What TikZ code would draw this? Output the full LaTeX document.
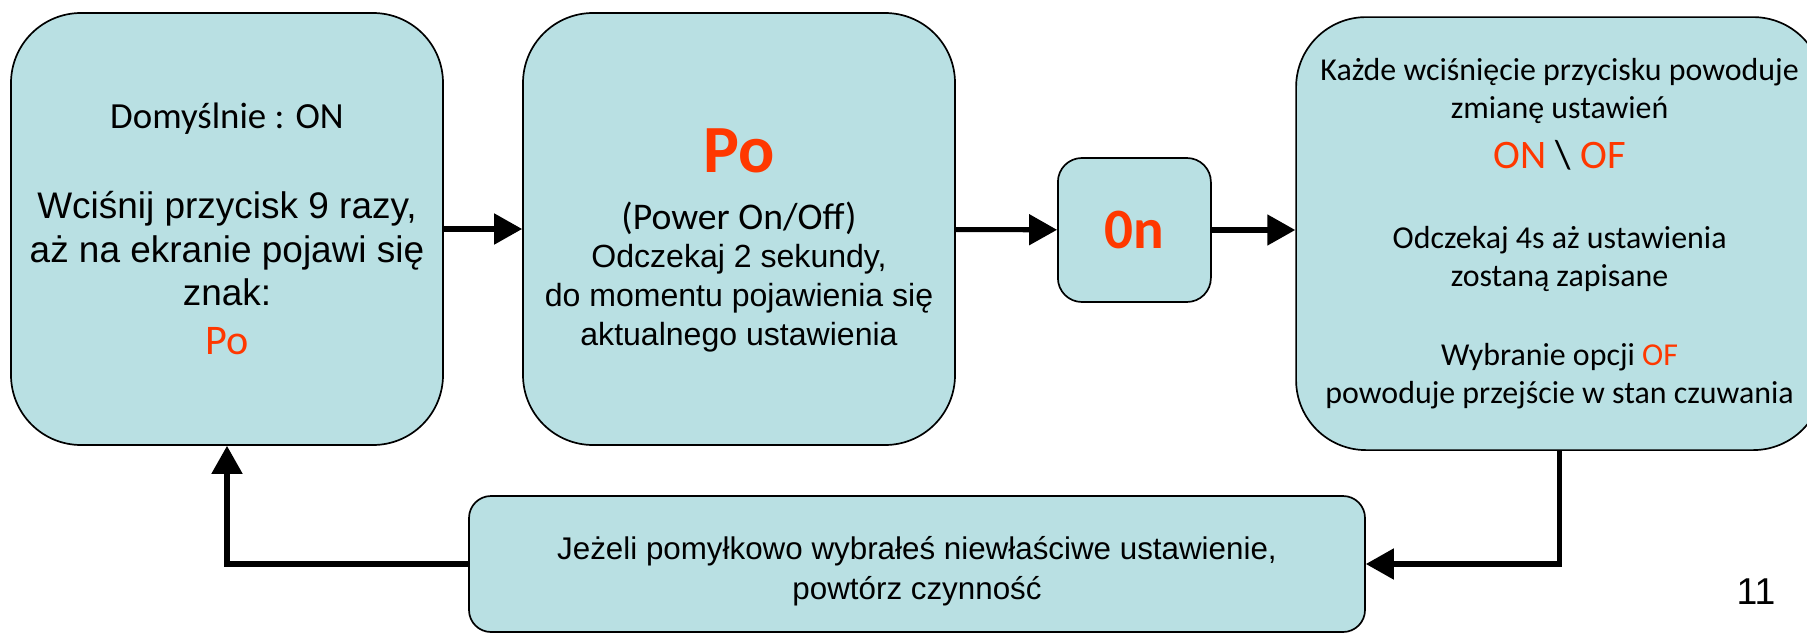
\documentclass[tikz,border=0pt]{standalone}
\usepackage{fontspec}
\setmainfont{Liberation Sans}
\newfontfamily\calibri{Carlito}
\usepackage{tikz}
\usetikzlibrary{arrows.meta}
\definecolor{powderblue}{RGB}{185, 224, 227}
\definecolor{vermilion}{RGB}{255, 56, 0}

\begin{document}
\begin{tikzpicture}[
        panel/.style={draw=black, line width=1.2pt, fill=powderblue, align=center, inner sep=0pt},
        flow/.style={line width=3.6pt, -{Triangle[length=0.7cm, width=0.75cm]}}
    ]
            % Frame to ensure alignment:
            \useasboundingbox                                                 (0.00, 0.00) rectangle (45.175, -15.85);
            % Start: press the button
            \node[panel, rounded corners=1.75cm, minimum width=10.80cm, minimum height=10.80cm,
                  font=\fontsize{26.3}{31}\selectfont]                   (start)    at ( 5.675, -5.725)
                 {{\calibri\fontsize{26.2}{30}\selectfont Domyślnie : ON}\\[33pt]
                  Wciśnij przycisk 9 razy,\\
                  aż na ekranie pojawi się\\
                  znak:\\[4pt]
                  {\calibri\fontsize{30}{36}\selectfont\color{vermilion}Po}};
            % Power On/Off
            \node[panel, rounded corners=1.75cm, minimum width=10.80cm, minimum height=10.80cm] (info) at (18.475, -5.725) {};
            \node[align=center, font=\fontsize{22.8}{27.5}\selectfont]   (infotext) at ([yshift=-0.28cm]info.center)
                 {{\calibri\bfseries\fontsize{48}{54}\selectfont\color{vermilion}Po}\\[13pt]
                  {\calibri\fontsize{26.8}{30}\selectfont (Power On/Off)}\\
                  Odczekaj 2 sekundy,\\
                  do momentu pojawienia się\\
                  aktualnego ustawienia};
            % Current setting
            \node[panel, rounded corners=0.60cm, minimum width=3.825cm, minimum height=3.60cm,
                  font=\calibri\bfseries\fontsize{40.6}{48}\selectfont,
                  text=vermilion]                                        (state)    at (28.360, -5.750) {0n};
            % Toggle ON / OF
            \node[panel, rounded corners=1.75cm, minimum width=13.175cm, minimum height=10.825cm,
                  font=\calibri\fontsize{22.7}{27}\selectfont]           (toggle)   at (38.990, -5.840)
                 {Każde wciśnięcie przycisku powoduje\\
                  zmianę ustawień\\[8.5pt]
                  {\fontsize{28.8}{33}\selectfont\color{vermilion}ON \textcolor{black}{\textbackslash} OF}\\[30pt]
                  Odczekaj 4s aż ustawienia\\
                  zostaną zapisane\\[29pt]
                  Wybranie opcji \textcolor{vermilion}{OF}\\
                  powoduje przejście w stan czuwania};
            % Wrong choice: repeat
            \node[panel, rounded corners=0.55cm, minimum width=22.40cm, minimum height=3.40cm] (retry) at (22.925, -14.100) {};
            \node[align=center, font=\fontsize{22.3}{28.5}\selectfont]   (retrytext) at ([yshift=-0.18cm]retry.center)
                 {Jeżeli pomyłkowo wybrałeś niewłaściwe ustawienie,\\
                  powtórz czynność};
            % Page number
            \node[font=\fontsize{26.6}{32}\selectfont]                   (pagenum)  at (43.900, -14.800) {11};
            % Arrows
            \draw[flow] (start)  -- (info);
            \draw[flow] (info)   -- (state);
            \draw[flow] (state.east)   -- (state.east -| toggle.west);
            \draw[flow] (toggle.south) |- (retry.east);
            \draw[flow] (retry.west)   -| (start.south);
        \end{tikzpicture}
\end{document}
